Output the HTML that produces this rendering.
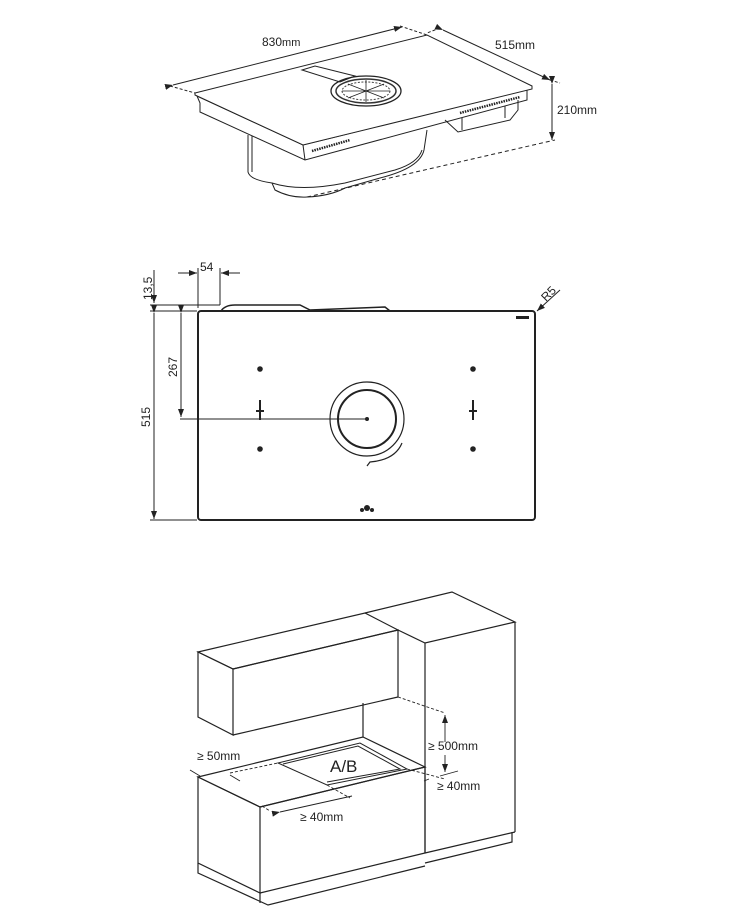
<!DOCTYPE html>
<html><head><style>
html,body{margin:0;padding:0;background:#fff;}
svg{display:block;}
text{font-family:"Liberation Sans",sans-serif;fill:#222;}
</style></head><body>
<svg width="745" height="913" viewBox="0 0 745 913" xmlns="http://www.w3.org/2000/svg">
<defs>
<marker id="ar" markerWidth="8" markerHeight="6" refX="8" refY="3" orient="auto" markerUnits="userSpaceOnUse"><path d="M0,0 L8,3 L0,6z" fill="#222"/></marker>
</defs>
<g fill="none" stroke="#222" stroke-width="1">
<path d="M248,135 L248,172 Q250,180 272,183 L275,190 Q290,198 307,197 Q330,196 345,188 L380,178 Q420,168 424,150 L427,130" fill="#fff"/>
<path d="M272,183 Q300,192 345,183 L395,170 Q418,163 422,150"/>
<path d="M252,135 L252,172"/>
<path d="M197,96 L200,103 L200,112 L305,160 L527,100 L527,90" fill="#fff"/>
<path d="M197,96 L303,145 L532,88" />
<path d="M195,93 L427,35 L532,86 L532,89 L303,145 L195,95z" fill="#fff"/>
<path d="M303,145 L305,160"/>
<path d="M312,151 L350,140" stroke-dasharray="1.5 1" stroke-width="2.5"/>
<path d="M460,113 L520,97" stroke-dasharray="1.5 1" stroke-width="2.5"/>
<path d="M445,120 L458,132 L510,120 L518,110 L518,100"/>
<path d="M462,118 L462,130 M505,106 L505,118"/>
<ellipse cx="366" cy="91" rx="35" ry="15" fill="#fff" stroke-width="1.3"/>
<ellipse cx="366" cy="91" rx="30" ry="12" stroke-width="1.5" stroke="#333"/>
<ellipse cx="366" cy="91" rx="24" ry="9" stroke-width="1" stroke="#444" stroke-dasharray="2 1.5"/>
<path d="M342,91 L390,91 M366,80 L366,102 M348,84 L384,98 M348,98 L384,84" stroke-width="0.8"/>
<path d="M302,70 L315,66 L355,76 L340,82z"/>
<path d="M173,85 L402,27" marker-start="url(#ar)" marker-end="url(#ar)"/>
<path d="M443,30 L550,80" marker-start="url(#ar)" marker-end="url(#ar)"/>
<path d="M552,84 L552,140" marker-start="url(#ar)" marker-end="url(#ar)"/>
<path d="M170,86 L195,93 M400,26 L427,35 M440,28 L427,33 M550,80 L560,83" stroke-dasharray="3 2"/>
<path d="M307,197 L555,140" stroke-dasharray="4 3"/>

<rect x="198" y="311" width="337" height="209" rx="3" stroke-width="2"/>
<path d="M221,311 Q225,305 235,305 L300,305 L310,310 L385,307 L390,311" stroke-width="1.5"/>
<circle cx="367" cy="419" r="37" stroke-width="1.2"/>
<circle cx="367" cy="419" r="29" stroke-width="2"/>
<path d="M402,443 Q395,460 370,462 L367,466" stroke-width="1.2"/>
<path d="M180,419 L367,419"/>
<path d="M181,313 L181,417" marker-start="url(#ar)" marker-end="url(#ar)"/>
<path d="M154,313 L154,519" marker-start="url(#ar)" marker-end="url(#ar)"/>
<path d="M150,311 L197,311 M150,520 L197,520 M150,305 L220,305 M154,270 L154,303"/>
<path d="M154,290 L154,303" marker-end="url(#ar)"/>
<path d="M198,268 L198,308 M220,268 L220,305"/>
<path d="M178,273 L197,273" marker-end="url(#ar)"/>
<path d="M240,273 L221,273" marker-end="url(#ar)"/>
<path d="M560,290 L537,311" marker-end="url(#ar)"/>
<path d="M260,400 L260,420 M256,411 L264,411 M473,400 L473,420 M469,411 L477,411" stroke-width="2"/>
</g>
<g fill="#222">
<circle cx="260" cy="369" r="2.8"/><circle cx="473" cy="369" r="2.8"/>
<circle cx="260" cy="449" r="2.8"/><circle cx="473" cy="449" r="2.8"/>
<circle cx="367" cy="419" r="2"/>
<rect x="516" y="316" width="13" height="3"/>
<circle cx="367" cy="508" r="3"/><circle cx="362" cy="510" r="2"/><circle cx="372" cy="510" r="2"/>
</g>

<g fill="none" stroke="#222" stroke-width="1.2">
<path d="M198,652 L365,613 L398,630 L233,669z" fill="#fff"/>
<path d="M198,652 L233,669 L233,735 L198,717z"/>
<path d="M233,669 L398,630 L398,697 L233,735"/>
<path d="M365,613 L452,592 L515,622 L425,643 L398,630"/>
<path d="M425,643 L425,853 M515,622 L515,832 M425,853 L515,832"/>
<path d="M512,832 L512,842 L425,863"/>
<path d="M363,703 L363,737"/>
<path d="M198,777 L363,737 L425,767 L260,807z"/>
<path d="M198,777 L260,807 L260,893 L198,863z"/>
<path d="M260,807 L425,767 L425,853 L260,893"/>
<path d="M198,863 L198,873 L268,905 L425,866 M260,893 L260,903"/>
<path d="M278,763 L360,743 L407,769 L327,785z" stroke-width="1"/>
<path d="M283,764 L358,746 L400,769 L327,782" stroke-width="1"/>
</g>
<g fill="none" stroke="#222" stroke-width="0.9" stroke-dasharray="3 2">
<path d="M398,697 L445,713"/>
<path d="M230,773 L278,763 M327,785 L350,798"/>
<path d="M262,806 L270,811"/>
<path d="M407,769 L445,779"/>
</g>
<g fill="none" stroke="#222" stroke-width="0.9">
<path d="M445,742 L445,715" marker-end="url(#ar)"/>
<path d="M445,755 L445,772" marker-end="url(#ar)"/>
<path d="M440,776 L458,771"/>
<path d="M280,812 L352,796" marker-start="url(#ar)"/>
<path d="M230,775 L240,781"/>
<path d="M424,781 L429,779"/>
<path d="M190,770 L200,776"/>
</g>

<g font-size="12">
<text x="262" y="46">830<tspan font-size="11">mm</tspan></text>
<text x="495" y="49">515mm</text>
<text x="557" y="114">210mm</text>
<text x="200" y="271" font-size="12">54</text>
<text transform="translate(152,300) rotate(-90)">13,5</text>
<text transform="translate(177,377) rotate(-90)">267</text>
<text transform="translate(150,427) rotate(-90)">515</text>
<text transform="translate(546,302) rotate(-45)">R5</text>
<text x="428" y="750">≥ 500mm</text>
<text x="437" y="790">≥ 40mm</text>
<text x="197" y="760">≥ 50mm</text>
<text x="300" y="821">≥ 40mm</text>
<text x="330" y="772" font-size="17">A/B</text>
</g>
</svg>
</body></html>
